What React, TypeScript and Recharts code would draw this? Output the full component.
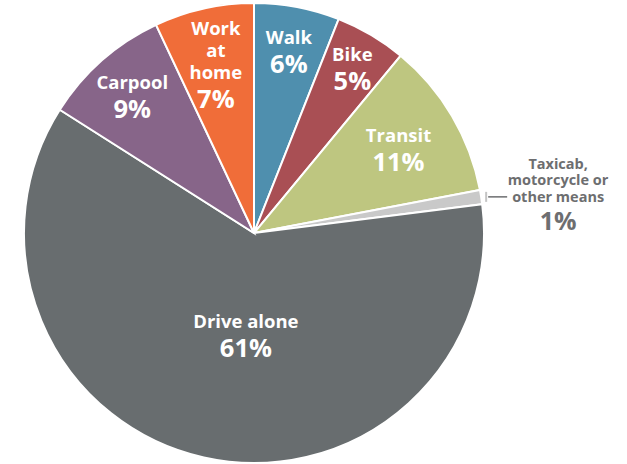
import { PieChart, Pie, Cell } from "recharts";

const MODES = [
  "Walk",
  "Bike",
  "Transit",
  "Taxicab, motorcycle or other means",
  "Drive alone",
  "Carpool",
  "Work at home",
];
const SHARES = [6, 5, 11, 1, 61, 9, 7];

// label text split into lines
const LABEL_LINES: Record<string, string[]> = {
  Walk: ["Walk"],
  Bike: ["Bike"],
  Transit: ["Transit"],
  "Taxicab, motorcycle or other means": ["Taxicab,", "motorcycle or", "other means"],
  "Drive alone": ["Drive alone"],
  Carpool: ["Carpool"],
  "Work at home": ["Work", "at", "home"],
};

const COLORS: Record<string, string> = {
  Walk: "#4f8fae",
  Bike: "#a94f54",
  Transit: "#bec680",
  "Taxicab, motorcycle or other means": "#c9c9c9",
  "Drive alone": "#686d6f",
  Carpool: "#876589",
  "Work at home": "#f06d39",
};

// where inside the slice the label sits (fraction of radius, angle shift in degrees)
const LABEL_RADIUS: Record<string, number> = {
  Walk: 0.81,
  Bike: 0.84,
  Transit: 0.73,
  "Drive alone": 0.44,
  Carpool: 0.8,
  "Work at home": 0.76,
};
const LABEL_SHIFT: Record<string, number> = {
  "Drive alone": 8,
};

const FONT = "'Open Sans', Lato, sans-serif";
const RAD = Math.PI / 180;

const chartData = MODES.map((name, i) => ({ name, value: SHARES[i] }));

function renderLabel(props: any) {
  const { cx, cy, midAngle, outerRadius, name, value } = props;
  const lines = LABEL_LINES[name] ?? [name];

  if (LABEL_RADIUS[name] === undefined) {
    // small slice: label outside with a leader line
    const ex = cx + (outerRadius + 1) * Math.cos(-midAngle * RAD);
    const ey = cy + (outerRadius + 1) * Math.sin(-midAngle * RAD);
    const tx = ex + 76;
    return (
      <g>
        <line x1={ex + 4} y1={ey - 5} x2={ex + 4} y2={ey + 5} stroke="#c4c4c4" strokeWidth={2} />
        <line x1={ex + 6} y1={ey} x2={ex + 25} y2={ey} stroke="#6d6e70" strokeWidth={1.5} />
        <text
          x={tx}
          y={ey - 34}
          textAnchor="middle"
          dominantBaseline="central"
          fill="#6d6e70"
          fontFamily={FONT}
          fontWeight={700}
          fontSize={14.5}
        >
          {lines.map((l, i) => (
            <tspan key={l} x={tx} dy={i === 0 ? 0 : 16.5}>
              {l}
            </tspan>
          ))}
        </text>
        <text
          x={tx}
          y={ey + 23}
          textAnchor="middle"
          dominantBaseline="central"
          fill="#6d6e70"
          fontFamily={FONT}
          fontWeight={700}
          fontSize={25}
        >
          {value}%
        </text>
      </g>
    );
  }

  const a = (midAngle + (LABEL_SHIFT[name] ?? 0)) * RAD;
  const r = outerRadius * LABEL_RADIUS[name];
  const x = cx + r * Math.cos(-a);
  const y = cy + r * Math.sin(-a);
  const span = 22 * (lines.length - 1) + 27;
  const top = y - span / 2;

  return (
    <g>
      <text
        x={x}
        y={top}
        textAnchor="middle"
        dominantBaseline="central"
        fill="#ffffff"
        fontFamily={FONT}
        fontWeight={700}
        fontSize={18.5}
      >
        {lines.map((l, i) => (
          <tspan key={l} x={x} dy={i === 0 ? 0 : 22}>
            {l}
          </tspan>
        ))}
      </text>
      <text
        x={x}
        y={top + span}
        textAnchor="middle"
        dominantBaseline="central"
        fill="#ffffff"
        fontFamily={FONT}
        fontWeight={700}
        fontSize={25.5}
      >
        {value}%
      </text>
    </g>
  );
}

export default function App() {
  return (
    <div style={{ position: "absolute", left: 0, top: 0, width: 627, height: 464, background: "#fff" }}>
      <PieChart width={627} height={464} margin={{ top: 0, right: 0, bottom: 0, left: 0 }}>
        <Pie
          data={chartData}
          dataKey="value"
          nameKey="name"
          cx={254}
          cy={233}
          outerRadius={230}
          startAngle={90}
          endAngle={-270}
          stroke="#ffffff"
          strokeWidth={2}
          label={renderLabel}
          labelLine={false}
          isAnimationActive={false}
        >
          {chartData.map((d) => (
            <Cell key={d.name} fill={COLORS[d.name]} />
          ))}
        </Pie>
      </PieChart>
    </div>
  );
}
